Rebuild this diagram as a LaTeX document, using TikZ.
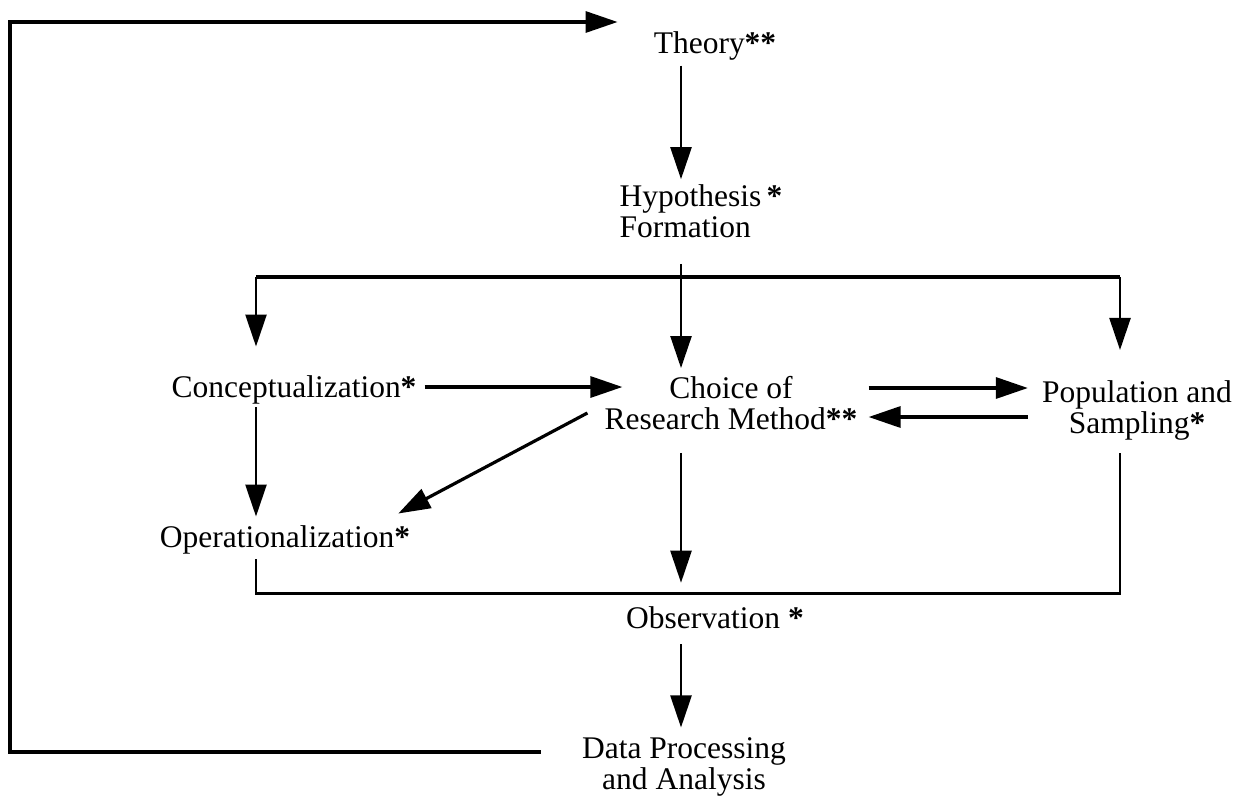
\documentclass[tikz,border=0pt]{standalone}
\usepackage{fontspec}
\setmainfont{Liberation Serif}
\usetikzlibrary{arrows.meta,calc}
\newcommand\myast{\textbf{*}}
\begin{document}
\begin{tikzpicture}[x=1pt,y=-1pt,
  lbl/.style={inner sep=0pt, font=\fontsize{31.5}{31}\selectfont},
  ln/.style={line width=2.4pt},
  hl/.style={line width=3.2pt},
  arr/.style={line width=2.4pt, -{Triangle[length=32pt,width=21pt]}},
  harr/.style={line width=3.2pt, -{Triangle[length=32pt,width=21pt]}}]
\useasboundingbox (0,0) rectangle (1246,803);
\fill[white] (0,0) rectangle (1246,803);
% nodes
\node[lbl] (theory) at (715,46) {Theory\myast\myast};
\node[lbl, align=left] (hyp) at (701,211) {Hypothesis\,\myast\\Formation};
\node[lbl] (concept) at (294,390) {Conceptualization\myast};
\node[lbl, align=center] (choice) at (731,403) {Choice of\\Research Method\myast\myast};
\node[lbl, align=center] (pop) at (1137,410) {Population and\\Sampling\myast};
\node[lbl] (oper) at (285,540) {Operationalization\myast};
\node[lbl] (obs) at (715,618) {Observation \myast};
\node[lbl, align=center] (data) at (684,767) {Data Processing\\and Analysis};
% helper x positions
\coordinate (cx) at (681,0);
\coordinate (lx) at (256,0);
\coordinate (rx) at (1120,0);
\coordinate (fx) at (10,0);
\coordinate (tee) at (0,277);
% feedback loop
\coordinate (fbA) at ($(data.west)+(-41,-15)$);
\coordinate (fbB) at ($(theory.west)+(-36,-24)$);
\draw[harr] (fbA) -- (fbA -| fx) -- (fbB -| fx) -- (fbB);
% theory -> hypothesis
\draw[arr] ($(theory.south -| cx)+(0,5)$) -- ($(hyp.north -| cx)+(0,-5)$);
% hypothesis -> branches
\draw[ln] ($(hyp.south -| cx)+(0,26)$) -- (tee -| cx);
\draw[hl] (tee -| lx) -- (tee -| rx);
\draw[arr] (tee -| lx) -- ($(concept.north -| lx)+(0,-29)$);
\draw[arr] (tee -| cx) -- ($(choice.north -| cx)+(0,-8)$);
\draw[arr] (tee -| rx) -- ($(pop.north -| rx)+(0,-30)$);
% horizontal arrows
\draw[harr] ($(concept.east)+(8,-3)$) -- ($(choice.west |- concept.east)+(18,-3)$);
\draw[harr] ($(choice.east)+(11,-15)$) -- ($(pop.west |- choice.east)+(-14,-15)$);
\draw[harr] ($(pop.west |- choice.east)+(-14,14)$) -- ($(choice.east)+(11,14)$);
% diagonal
\draw[harr] ($(choice.west)+(-17,10)$) -- ($(oper.north east)+(-12,-12)$);
% conceptualization -> operationalization
\draw[arr] ($(concept.south -| lx)+(0,3)$) -- ($(oper.north -| lx)+(0,-9)$);
% choice -> observation
\draw[arr] ($(choice.south -| cx)+(0,23)$) -- ($(obs.north -| cx)+(0,-24)$);
% bracket operationalization -- population
\draw[ln] ($(oper.south -| lx)+(0,5)$) -- ($(obs.north -| lx)+(0,-13)$)
  -- ($(obs.north -| rx)+(0,-13)$) -- ($(pop.south -| rx)+(0,13)$);
\draw[hl] ($(obs.north -| lx)+(0,-13)$) -- ($(obs.north -| rx)+(0,-13)$);
% observation -> data
\draw[arr] ($(obs.south -| cx)+(0,15)$) -- ($(data.north -| cx)+(0,-10)$);
\end{tikzpicture}
\end{document}
